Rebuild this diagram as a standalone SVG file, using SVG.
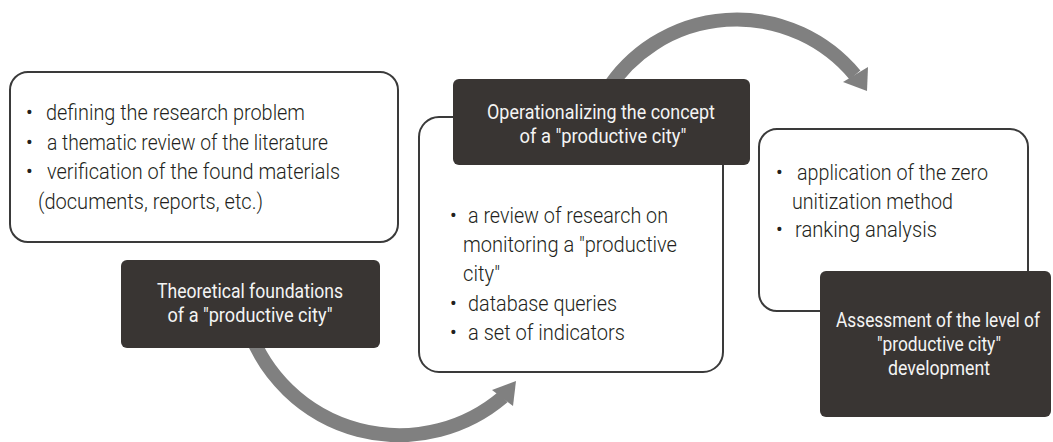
<svg xmlns="http://www.w3.org/2000/svg" width="1053" height="442" viewBox="0 0 1053 442">
  <style>
    .panel { fill: #ffffff; stroke: #3a3a3a; stroke-width: 2; }
    .title { fill: #393533; }
    .body { font-family: Roboto, "Liberation Sans", sans-serif; font-weight: 300; font-size: 22px; fill: #231f20; }
    .bullet { font-family: Roboto, "Liberation Sans", sans-serif; font-size: 20px; fill: #231f20; }
    .head { font-family: Roboto, "Liberation Sans", sans-serif; font-size: 20px; fill: #f4f4f4; text-anchor: middle; }
    .flow { fill: none; stroke: #808080; stroke-width: 14; }
    .tip { fill: #808080; }
  </style>
  <rect width="1053" height="442" fill="#ffffff"/>

  <!-- curved flow arrows, drawn beneath the boxes -->
  <g id="connectors">
    <path class="flow" d="M249,330 A160,160 0 0 0 503,397"/>
    <polygon class="tip" points="492,390 516,381 513,406"/>
    <path class="flow" d="M606,92 A154,154 0 0 1 855,75"/>
    <polygon class="tip" points="843,82 868,67 867,91"/>
  </g>

  <!-- stage 1: literature -->
  <g id="panel-literature">
    <rect class="panel" x="10" y="72" width="388" height="170" rx="18"/>
    <text class="bullet" x="26" y="119">•</text>
    <text class="body" x="46" y="120" textLength="259" lengthAdjust="spacingAndGlyphs">defining the research problem</text>
    <text class="bullet" x="26" y="148.5">•</text>
    <text class="body" x="47" y="149.5" textLength="281" lengthAdjust="spacingAndGlyphs">a thematic review of the literature</text>
    <text class="bullet" x="26" y="178">•</text>
    <text class="body" x="47" y="179" textLength="293" lengthAdjust="spacingAndGlyphs">verification of the found materials</text>
    <text class="body" x="38" y="208.5" textLength="225" lengthAdjust="spacingAndGlyphs">(documents, reports, etc.)</text>
  </g>

  <g id="stage-theory">
    <rect class="title" x="121" y="260" width="259" height="88" rx="6"/>
    <text class="head" x="250" y="298" textLength="186" lengthAdjust="spacingAndGlyphs">Theoretical foundations</text>
    <text class="head" x="250" y="322" textLength="165" lengthAdjust="spacingAndGlyphs">of a "productive city"</text>
  </g>

  <!-- stage 2: operationalization -->
  <g id="panel-indicators">
    <rect class="panel" x="419" y="117" width="304" height="255" rx="20"/>
    <text class="bullet" x="450" y="222">•</text>
    <text class="body" x="468" y="223" textLength="200" lengthAdjust="spacingAndGlyphs">a review of research on</text>
    <text class="body" x="463" y="252" textLength="214" lengthAdjust="spacingAndGlyphs">monitoring a "productive</text>
    <text class="body" x="463" y="281" textLength="37" lengthAdjust="spacingAndGlyphs">city"</text>
    <text class="bullet" x="450" y="309.5">•</text>
    <text class="body" x="468" y="310.5" textLength="149" lengthAdjust="spacingAndGlyphs">database queries</text>
    <text class="bullet" x="450" y="339">•</text>
    <text class="body" x="468" y="340" textLength="157" lengthAdjust="spacingAndGlyphs">a set of indicators</text>
  </g>

  <g id="stage-concept">
    <rect class="title" x="453" y="79" width="297" height="86" rx="6"/>
    <text class="head" x="601" y="119" textLength="228" lengthAdjust="spacingAndGlyphs">Operationalizing the concept</text>
    <text class="head" x="603" y="143" textLength="167" lengthAdjust="spacingAndGlyphs">of a "productive city"</text>
  </g>

  <!-- stage 3: assessment -->
  <g id="panel-methods">
    <rect class="panel" x="759" y="129" width="269" height="182" rx="18"/>
    <text class="bullet" x="776" y="179">•</text>
    <text class="body" x="797" y="180" textLength="191" lengthAdjust="spacingAndGlyphs">application of the zero</text>
    <text class="body" x="792" y="208.5" textLength="161" lengthAdjust="spacingAndGlyphs">unitization method</text>
    <text class="bullet" x="776" y="236">•</text>
    <text class="body" x="795" y="237" textLength="142" lengthAdjust="spacingAndGlyphs">ranking analysis</text>
  </g>

  <g id="stage-assessment">
    <rect class="title" x="820" y="271" width="231" height="146" rx="6"/>
    <text class="head" x="938" y="327" textLength="204" lengthAdjust="spacingAndGlyphs">Assessment of the level of</text>
    <text class="head" x="939" y="351" textLength="124" lengthAdjust="spacingAndGlyphs">"productive city"</text>
    <text class="head" x="939" y="375" textLength="102" lengthAdjust="spacingAndGlyphs">development</text>
  </g>
</svg>
